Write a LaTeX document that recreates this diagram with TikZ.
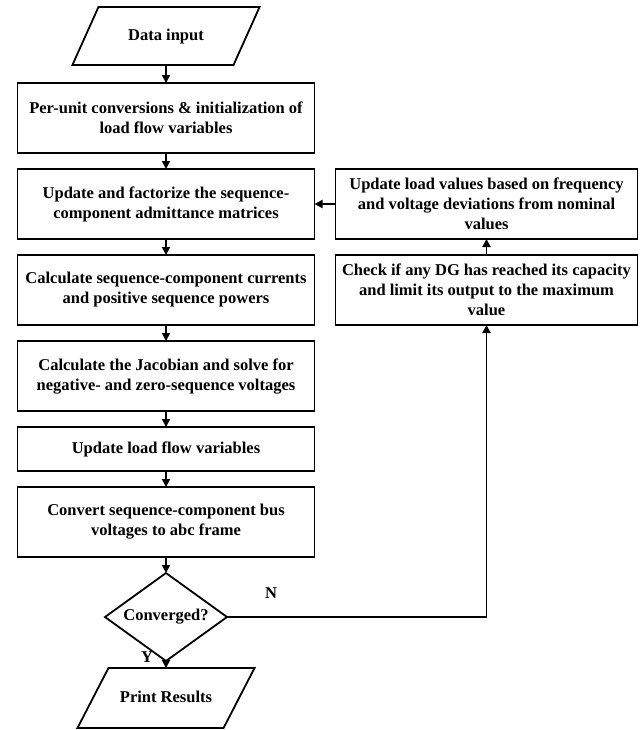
\documentclass[tikz,border=0pt]{standalone}
\usepackage{fontspec}
\setmainfont{Liberation Serif}
\usetikzlibrary{positioning,arrows.meta,shapes.geometric}

\begin{document}
\begin{tikzpicture}[
  x=0.5pt, y=-0.5pt,
  font=\fontsize{8.25}{10}\selectfont\bfseries,
  >={Triangle[length=4pt,width=4pt]},
  proc/.style={draw=black, line width=0.9pt, align=center, inner sep=2pt, outer sep=0pt,
               minimum height=35pt, minimum width=148.5pt, fill=white},
  side/.style={proc, minimum width=151pt},
  io/.style={trapezium, draw=black, line width=0.9pt, align=center, fill=white, outer sep=0pt,
             text height=6pt, text depth=1.5pt, inner ysep=10.75pt},
  dec/.style={diamond, aspect=1.4, draw=black, line width=0.9pt, align=center, outer sep=0pt,
              inner sep=1pt, minimum width=61pt, minimum height=44pt, fill=white},
  flow/.style={->, line width=0.9pt, draw=black},
  lbl/.style={inner sep=1pt},
  node distance=8pt and 10.5pt,
]
\useasboundingbox (0,0) rectangle (644,730);

% ---- input ----
\node[io, trapezium left angle=65.8, trapezium right angle=114.2, inner xsep=14.85pt]
  (input) at (166,36) {Data input};

% ---- main load flow column ----
\node[proc, below=9pt of input] (init)
  {Per-unit conversions \& initialization of\\load flow variables};
\node[proc, below=of init] (factor)
  {Update and factorize the sequence-\\component admittance matrices};
\node[proc, below=of factor] (curr)
  {Calculate sequence-component currents\\and positive sequence powers};
\node[proc, below=of curr] (jac)
  {Calculate the Jacobian and solve for\\negative- and zero-sequence voltages};
\node[proc, below=of jac, minimum height=22pt] (upd) {Update load flow variables};
\node[proc, below=of upd] (abc)
  {Convert sequence-component bus\\voltages to abc frame};

% ---- convergence check and output ----
\node[dec, below=of abc] (conv) {Converged?};
\node[io, trapezium left angle=62.7, trapezium right angle=117.3, inner xsep=5.75pt,
      inner ysep=11.25pt, below=3.5pt of conv] (print) {Print Results};

% ---- DG limits / load update loop ----
\node[side, right=of factor] (loadupd)
  {Update load values based on frequency\\and voltage deviations from nominal\\values};
\node[side, below=of loadupd] (limit)
  {Check if any DG has reached its capacity\\and limit its output to the maximum\\value};

% ---- edges ----
\draw[flow] (input) -- (init);
\draw[flow] (init) -- (factor);
\draw[flow] (factor) -- (curr);
\draw[flow] (curr) -- (jac);
\draw[flow] (jac) -- (upd);
\draw[flow] (upd) -- (abc);
\draw[flow] (abc) -- (conv);
\draw[flow] (conv) -- node[lbl, pos=0, left=5pt, yshift=2pt]{Y} (print);

% not converged -> back through the DG/load update
\draw[flow] (conv.east) -| node[lbl, pos=0.085, above=8pt]{N} (limit.south);
\draw[flow] (limit) -- (loadupd);
\draw[flow] (loadupd) -- (factor);

\end{tikzpicture}
\end{document}
